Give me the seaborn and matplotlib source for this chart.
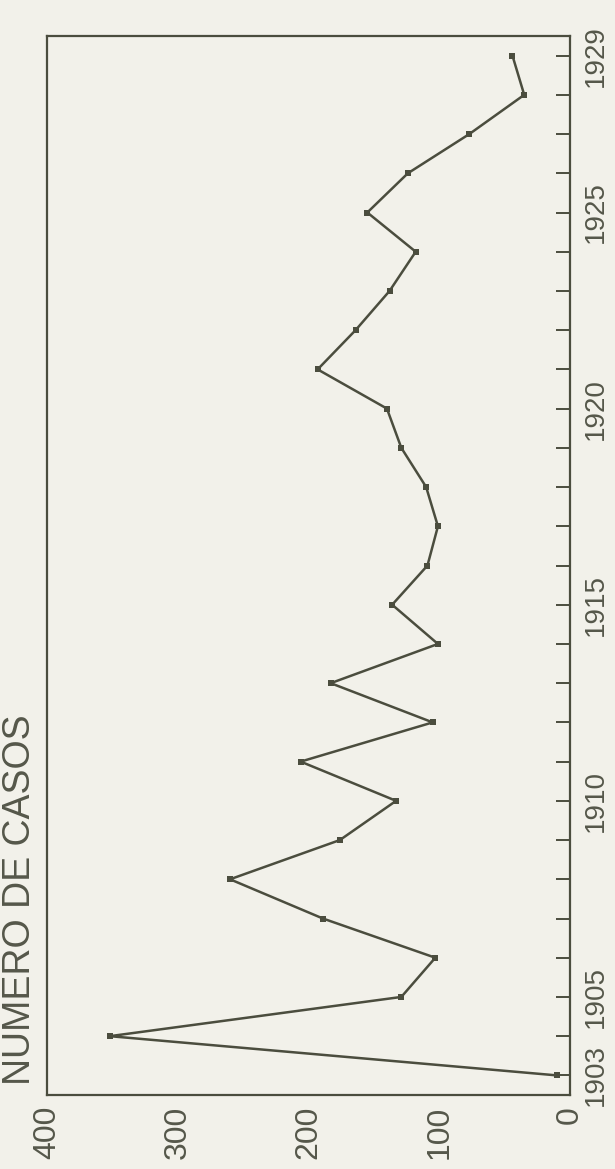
import matplotlib
matplotlib.use('Agg')
import matplotlib.pyplot as plt
import seaborn as sns
import pandas as pd

# dados (numero de casos por ano)
anos = [1903, 1904, 1905, 1906, 1907, 1908, 1909, 1910, 1911, 1912, 1913, 1914, 1915,
        1916, 1917, 1918, 1919, 1920, 1921, 1922, 1923, 1924, 1925, 1926, 1927, 1928, 1929]
casos = [10, 352, 129, 103, 189, 260, 176, 133, 206, 105, 183, 101, 136,
         109, 101, 110, 129, 140, 193, 164, 138, 118, 155, 124, 77, 35, 44]

ticks_casos = [400, 300, 200, 100, 0]
anos_rotulados = [1903, 1905, 1910, 1915, 1920, 1925, 1929]

df = pd.DataFrame({'ano': anos, 'casos': casos})

# cores
papel = '#f2f1ea'
tinta = '#4b4d3e'
texto = '#55574a'

sns.set_theme(style='white')
plt.rcParams['font.family'] = ['Liberation Sans', 'DejaVu Sans']

fig = plt.figure(figsize=(6.15, 11.69), dpi=100, facecolor=papel)
ax = fig.add_axes([0.0764, 0.0633, 0.8504, 0.9059])
ax.set_facecolor(papel)

sns.lineplot(data=df, x='casos', y='ano', orient='y', sort=False, color=tinta,
             linewidth=1.8, marker='s', markersize=5, markeredgewidth=0, ax=ax)

ax.set_xlim(400, 0)
ax.set_ylim(1902.5, 1929.5)
ax.set_xlabel('')
ax.set_ylabel('')

# eixo dos casos (embaixo)
ax.set_xticks(ticks_casos)
ax.set_xticklabels([str(v) for v in ticks_casos])
ax.tick_params(axis='x', direction='in', length=10, width=1.4, pad=8,
               labelsize=23, labelrotation=90, colors=tinta, labelcolor=texto)

# eixo dos anos (direita)
ax.yaxis.tick_right()
ax.set_yticks(anos)
ax.set_yticklabels([str(a) if a in anos_rotulados else '' for a in anos])
ax.tick_params(axis='y', direction='in', length=10, width=1.4, pad=9,
               labelsize=20, labelrotation=90, colors=tinta, labelcolor=texto)
for lbl in ax.get_yticklabels():
    lbl.set_va('center')

for sp in ax.spines.values():
    sp.set_visible(True)
    sp.set_color(tinta)
    sp.set_linewidth(1.6)

fig.text(20 / 615, 84 / 1169, 'NUMERO DE CASOS', rotation=90, ha='center', va='bottom',
         fontsize=27, color=texto)

fig.savefig('out.png', dpi=100, facecolor=papel)
